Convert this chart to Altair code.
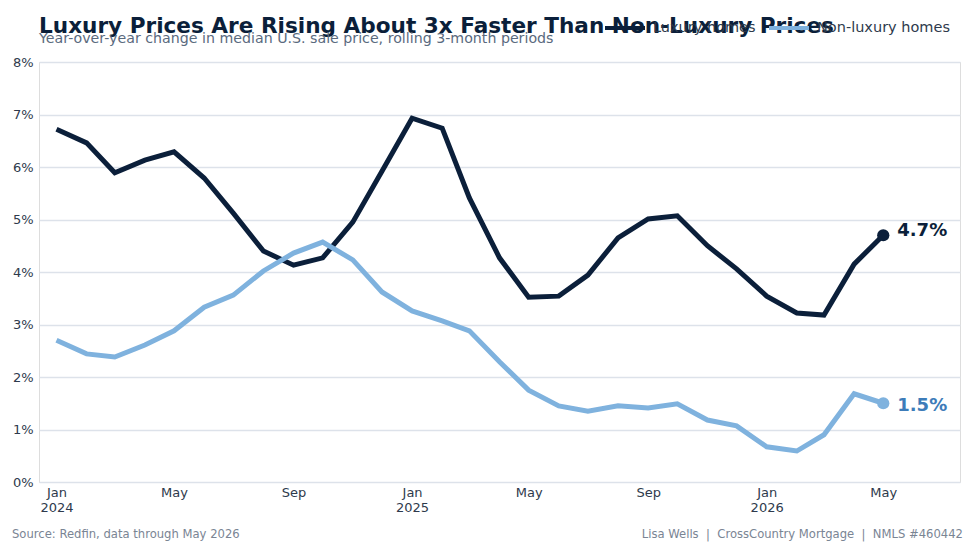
import altair as alt
import pandas as pd

months = pd.date_range("2024-01-01", "2026-05-01", freq="MS").strftime("%Y-%m-%d").tolist()

luxury = [6.72, 6.46, 5.89, 6.13, 6.29, 5.79, 5.12, 4.40, 4.13, 4.27, 4.95, 5.92,
          6.93, 6.74, 5.41, 4.27, 3.52, 3.54, 3.94, 4.65, 5.01, 5.07, 4.50, 4.06,
          3.54, 3.22, 3.18, 4.15, 4.70]
non_luxury = [2.70, 2.44, 2.38, 2.61, 2.88, 3.33, 3.56, 4.02, 4.36, 4.57, 4.23, 3.62,
              3.26, 3.07, 2.88, 2.29, 1.75, 1.45, 1.35, 1.45, 1.41, 1.49, 1.18, 1.07,
              0.67, 0.59, 0.90, 1.68, 1.50]

series_names = ["Luxury homes", "Non-luxury homes"]
series_colors = ["#0b1f3a", "#7fb2de"]
label_colors = ["#0b1f3a", "#3d7cb9"]
end_labels = ["4.7%", "1.5%"]

x_ticks = ["2024-01-01", "2024-05-01", "2024-09-01", "2025-01-01", "2025-05-01",
           "2025-09-01", "2026-01-01", "2026-05-01"]
y_ticks = [0, 1, 2, 3, 4, 5, 6, 7, 8]

title_text = "Luxury Prices Are Rising About 3x Faster Than Non-Luxury Prices"
subtitle_text = "Year-over-year change in median U.S. sale price, rolling 3-month periods"
source_text = "Source: Redfin, data through May 2026"
credit_text = "Lisa Wells \u00a0|\u00a0 CrossCountry Mortgage \u00a0|\u00a0 NMLS #460442"

rows = []
for name, vals in zip(series_names, [luxury, non_luxury]):
    for m, v in zip(months, vals):
        rows.append({"date": m, "value": v, "series": name})
df = pd.DataFrame(rows)

end_df = pd.DataFrame({
    "date": [months[-1], months[-1]],
    "value": [luxury[-1], non_luxury[-1]],
    "series": series_names,
    "label": end_labels,
    "lcolor": label_colors,
})

W, H = 921, 420

x_enc = alt.X("date:T", scale=alt.Scale(type="utc", domain=[
    alt.DateTime(year=2023, month=12, date=14, utc=True),
    alt.DateTime(year=2026, month=7, date=19, utc=True)]),
    axis=alt.Axis(
        values=[alt.DateTime(year=int(d[:4]), month=int(d[5:7]), date=1, utc=True) for d in x_ticks],
        labelExpr="utcmonth(datum.value) == 0 ? [utcFormat(datum.value, '%b'), utcFormat(datum.value, '%Y')] : utcFormat(datum.value, '%b')",
        grid=False, domain=False, ticks=False, labelPadding=4,
        labelFontSize=13, labelColor="#2e3a4c", labelFont="DejaVu Sans", title=None,
        labelAlign="center", labelLineHeight=15,
    ), title=None)

y_enc = alt.Y("value:Q", scale=alt.Scale(domain=[0, 8], nice=False, zero=True),
              axis=alt.Axis(values=y_ticks, labelExpr="datum.value + '%'", grid=True,
                            gridColor="#dde2ea", gridWidth=1.3, domain=False, ticks=False,
                            labelPadding=6, labelFontSize=13, labelColor="#2e3a4c",
                            labelFont="DejaVu Sans", title=None))

color_scale = alt.Scale(domain=series_names, range=series_colors)

lines = alt.Chart(df).mark_line(strokeWidth=5, strokeJoin="miter", strokeCap="butt").encode(
    x=x_enc, y=y_enc,
    color=alt.Color("series:N", scale=color_scale, legend=alt.Legend(
        orient="none", legendX=564, legendY=-56, direction="horizontal",
        title=None, symbolType="stroke", symbolStrokeWidth=4, symbolSize=1600,
        labelFontSize=14.5, labelColor="#2e3a4c", labelFont="DejaVu Sans",
        columnPadding=5, labelOffset=6)),
)

points = alt.Chart(end_df).mark_point(filled=True, opacity=1, size=150, shape="circle").encode(
    x="date:T", y="value:Q",
    color=alt.Color("series:N", scale=color_scale, legend=None),
)

label_top = alt.Chart(end_df).transform_filter(alt.datum.series == series_names[0]).mark_text(
    align="left", baseline="middle", dx=14, dy=-4,
    fontSize=18, fontWeight="bold", font="DejaVu Sans").encode(
    x="date:T", y="value:Q", text="label:N",
    color=alt.Color("lcolor:N", scale=None),
)
label_bottom = alt.Chart(end_df).transform_filter(alt.datum.series == series_names[1]).mark_text(
    align="left", baseline="middle", dx=14, dy=3,
    fontSize=18, fontWeight="bold", font="DejaVu Sans").encode(
    x="date:T", y="value:Q", text="label:N",
    color=alt.Color("lcolor:N", scale=None),
)

title_df = pd.DataFrame({"t": [title_text]})
title_mark = alt.Chart(title_df).mark_text(align="left", baseline="alphabetic", fontSize=21.6,
                                            fontWeight="bold", color="#0b1f3a",
                                            font="DejaVu Sans").encode(
    text="t:N", x=alt.value(0), y=alt.value(-29))
subtitle_df = pd.DataFrame({"t": [subtitle_text]})
subtitle_mark = alt.Chart(subtitle_df).mark_text(align="left", baseline="alphabetic", fontSize=14.2,
                                                  color="#5a6a7e", font="DejaVu Sans").encode(
    text="t:N", x=alt.value(0), y=alt.value(-19))

footer_df = pd.DataFrame({"t": [source_text]})
footer_left = alt.Chart(footer_df).mark_text(align="left", baseline="alphabetic", fontSize=11.6,
                                              color="#7a8594", font="DejaVu Sans").encode(
    text="t:N", x=alt.value(-27), y=alt.value(H + 56))
footer2_df = pd.DataFrame({"t": [credit_text]})
footer_right = alt.Chart(footer2_df).mark_text(align="right", baseline="alphabetic", fontSize=11.6,
                                                color="#7a8594", font="DejaVu Sans").encode(
    text="t:N", x=alt.value(W + 3), y=alt.value(H + 56))

chart = alt.layer(lines, points, label_top, label_bottom, title_mark, subtitle_mark,
                  footer_left, footer_right).properties(
    width=W, height=H,
    autosize=alt.AutoSizeParams(type="none"),
    padding={"left": 31, "top": 54, "right": 7, "bottom": 62},
).configure_view(stroke=None).configure(background="white")

chart.save("out.html", embed_options={"renderer": "svg", "actions": False})
